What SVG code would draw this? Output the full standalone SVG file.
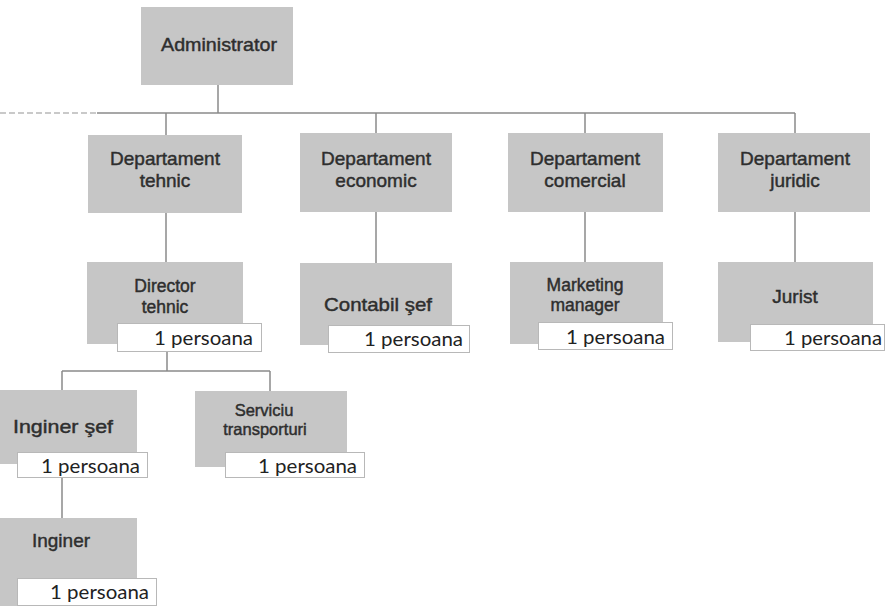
<svg xmlns="http://www.w3.org/2000/svg" width="885" height="606" viewBox="0 0 885 606">
<style>
.box{fill:#c6c6c6;}
.lbl{fill:#ffffff;stroke:#b8b8b8;stroke-width:1;}
.t{font-family:"Liberation Sans",Arial,sans-serif;font-size:19px;fill:#2e2e2e;stroke:#2e2e2e;stroke-width:0.45;text-anchor:middle;}
.s{font-size:16.5px;}
.m{font-size:17.5px;}
.p{font-family:Lato,"Noto Sans",sans-serif;font-size:19px;fill:#222;text-anchor:end;}
.c{fill:none;stroke:#8a8a8a;stroke-width:1.5;}
</style>
<rect width="885" height="606" fill="#ffffff"/>
<g id="connectors">
<path class="c" d="M0 113 H97" stroke-dasharray="6 3" style="stroke:#b8b8b8"/>
<path class="c" d="M218 85 V113 M97 113 H795 M166 113 V135 M376 113 V133 M585 113 V133 M795 113 V133"/>
<path class="c" d="M166 213 V262 M376 212 V263 M585 212 V262 M795 212 V262"/>
<path class="c" d="M167 352 V371 M62 371 H270 M62 371 V390 M270 371 V391 M62 477 V518"/>
</g>
<g id="administrator">
<rect class="box" x="141" y="7" width="152" height="78"/>
<text class="t" x="219" y="51" textLength="116" lengthAdjust="spacingAndGlyphs">Administrator</text>
</g>
<g id="dept-tehnic">
<rect class="box" x="88" y="135" width="154" height="78"/>
<text class="t" x="165" y="165">Departament</text>
<text class="t" x="165" y="187">tehnic</text>
</g>
<g id="dept-economic">
<rect class="box" x="300" y="133" width="152" height="79"/>
<text class="t" x="376" y="165">Departament</text>
<text class="t" x="376" y="187">economic</text>
</g>
<g id="dept-comercial">
<rect class="box" x="508" y="133" width="155" height="79"/>
<text class="t" x="585" y="165">Departament</text>
<text class="t" x="585" y="187">comercial</text>
</g>
<g id="dept-juridic">
<rect class="box" x="718" y="133" width="152" height="79"/>
<text class="t" x="795" y="165">Departament</text>
<text class="t" x="795" y="187">juridic</text>
</g>
<g id="director-tehnic">
<rect class="box" x="87" y="262" width="156" height="82"/>
<text class="t m" x="165" y="292">Director</text>
<text class="t m" x="165" y="313">tehnic</text>
<rect class="lbl" x="117.5" y="323.5" width="144" height="28"/>
<text class="p" x="253" y="345" textLength="99" lengthAdjust="spacingAndGlyphs">1 persoana</text>
</g>
<g id="contabil-sef">
<rect class="box" x="300" y="263" width="152" height="82"/>
<text class="t" x="378" y="311" textLength="108" lengthAdjust="spacingAndGlyphs">Contabil şef</text>
<rect class="lbl" x="328.5" y="325.5" width="141" height="27"/>
<text class="p" x="463" y="346" textLength="99" lengthAdjust="spacingAndGlyphs">1 persoana</text>
</g>
<g id="marketing-manager">
<rect class="box" x="510" y="262" width="153" height="82"/>
<text class="t m" x="585" y="291">Marketing</text>
<text class="t m" x="585" y="311">manager</text>
<rect class="lbl" x="538.5" y="322.5" width="134" height="27"/>
<text class="p" x="665" y="344" textLength="99" lengthAdjust="spacingAndGlyphs">1 persoana</text>
</g>
<g id="jurist">
<rect class="box" x="718" y="262" width="155" height="80"/>
<text class="t" x="795" y="303">Jurist</text>
<rect class="lbl" x="750.5" y="324.5" width="134" height="26"/>
<text class="p" x="882" y="345" textLength="98" lengthAdjust="spacingAndGlyphs">1 persoana</text>
</g>
<g id="inginer-sef">
<rect class="box" x="-14" y="390" width="151" height="74"/>
<text class="t" x="63" y="433" textLength="100" lengthAdjust="spacingAndGlyphs">Inginer şef</text>
<rect class="lbl" x="17.5" y="452.5" width="130" height="25"/>
<text class="p" x="140" y="473" textLength="99" lengthAdjust="spacingAndGlyphs">1 persoana</text>
</g>
<g id="serviciu-transporturi">
<rect class="box" x="195" y="391" width="152" height="76"/>
<text class="t s" x="264" y="416">Serviciu</text>
<text class="t s" x="265" y="435">transporturi</text>
<rect class="lbl" x="225.5" y="452.5" width="139" height="25"/>
<text class="p" x="357" y="473" textLength="99" lengthAdjust="spacingAndGlyphs">1 persoana</text>
</g>
<g id="inginer">
<rect class="box" x="-14" y="518" width="151" height="88"/>
<text class="t" x="61" y="547">Inginer</text>
<rect class="lbl" x="17.5" y="578.5" width="139" height="27"/>
<text class="p" x="149" y="599" textLength="99" lengthAdjust="spacingAndGlyphs">1 persoana</text>
</g>
</svg>
